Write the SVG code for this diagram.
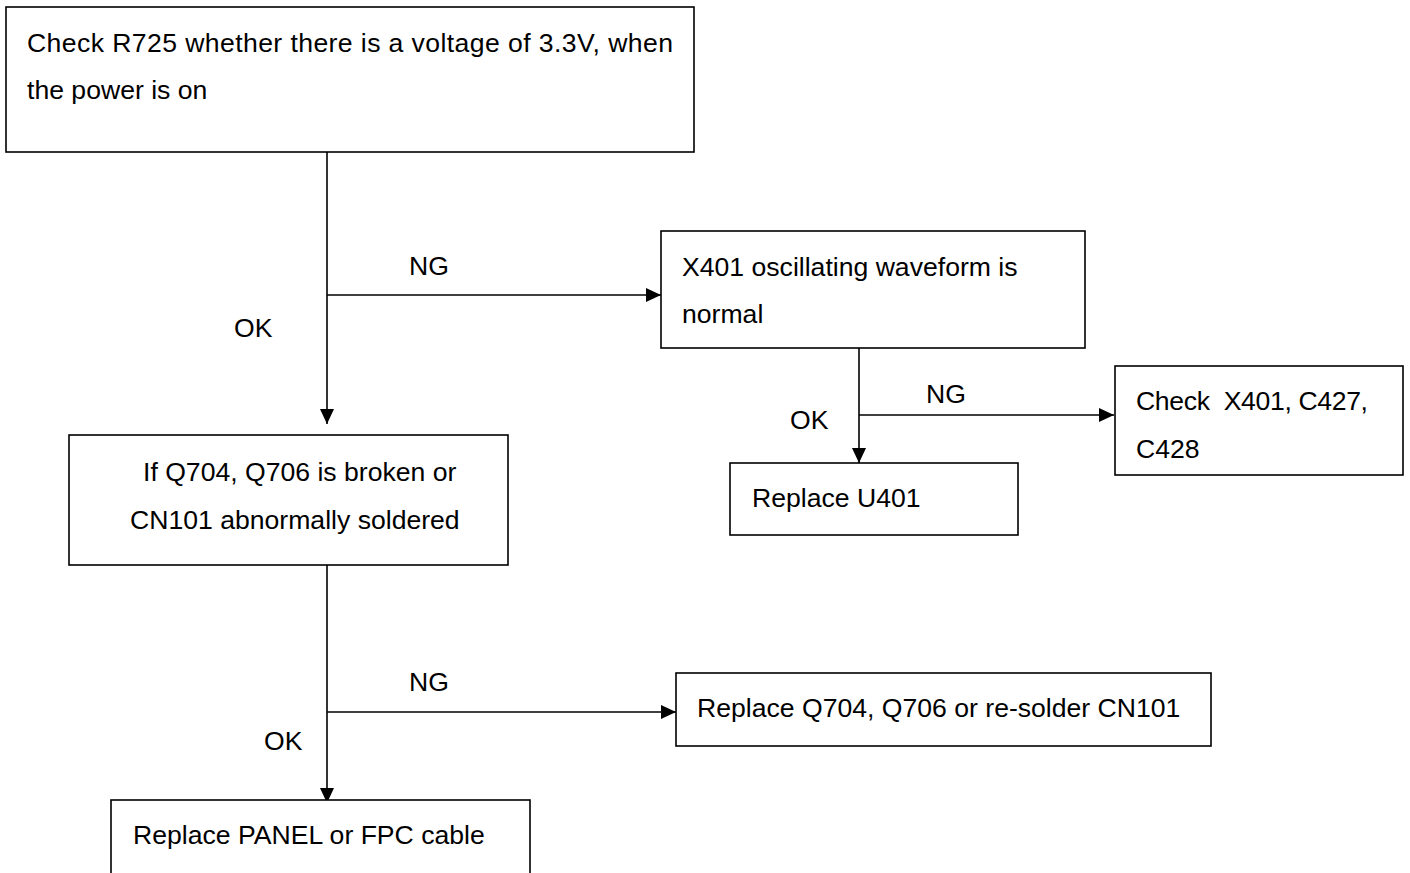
<svg xmlns="http://www.w3.org/2000/svg" width="1410" height="873" viewBox="0 0 1410 873">
<style>
.box{fill:#fff;stroke:#000;stroke-width:1.6}
.t{font-family:"Liberation Sans",Arial,sans-serif;font-size:26.6px;fill:#000}
.c{stroke:#000;stroke-width:1.6;fill:none}
</style>
<defs>
<marker id="ah" markerWidth="15" markerHeight="14" refX="15" refY="7" orient="auto" markerUnits="userSpaceOnUse">
<path d="M0,0 L15,7 L0,14 Z" fill="#000"/>
</marker>
</defs>
<rect width="1410" height="873" fill="#fff"/>
<g id="connectors">
<line class="c" x1="327" y1="152" x2="327" y2="424" marker-end="url(#ah)"/>
<line class="c" x1="327" y1="295" x2="661" y2="295" marker-end="url(#ah)"/>
<line class="c" x1="859" y1="348" x2="859" y2="463" marker-end="url(#ah)"/>
<line class="c" x1="859" y1="415" x2="1114" y2="415" marker-end="url(#ah)"/>
<line class="c" x1="327" y1="565" x2="327" y2="803" marker-end="url(#ah)"/>
<line class="c" x1="327" y1="712" x2="676" y2="712" marker-end="url(#ah)"/>
<text class="t" x="409" y="275">NG</text>
<text class="t" x="234" y="337">OK</text>
<text class="t" x="926" y="403">NG</text>
<text class="t" x="790" y="429">OK</text>
<text class="t" x="409" y="691">NG</text>
<text class="t" x="264" y="750">OK</text>
</g>
<g id="n1">
<rect class="box" x="6" y="7" width="688" height="145"/>
<text class="t" x="27" y="52" textLength="646" lengthAdjust="spacing">Check R725 whether there is a voltage of 3.3V, when</text>
<text class="t" x="27" y="99">the power is on</text>
</g>
<g id="n2">
<rect class="box" x="661" y="231" width="424" height="117"/>
<text class="t" x="682" y="276">X401 oscillating waveform is</text>
<text class="t" x="682" y="323">normal</text>
</g>
<g id="n3">
<rect class="box" x="1115" y="366" width="288" height="109"/>
<text class="t" x="1136" y="410" textLength="232" lengthAdjust="spacing" xml:space="preserve">Check  X401, C427,</text>
<text class="t" x="1136" y="458">C428</text>
</g>
<g id="n4">
<rect class="box" x="730" y="463" width="288" height="72"/>
<text class="t" x="752" y="507">Replace U401</text>
</g>
<g id="n5">
<rect class="box" x="69" y="435" width="439" height="130"/>
<text class="t" x="143" y="481">If Q704, Q706 is broken or</text>
<text class="t" x="130" y="529">CN101 abnormally soldered</text>
</g>
<g id="n6">
<rect class="box" x="676" y="673" width="535" height="73"/>
<text class="t" x="697" y="717">Replace Q704, Q706 or re-solder CN101</text>
</g>
<g id="n7">
<rect class="box" x="111" y="800" width="419" height="80"/>
<text class="t" x="133" y="844">Replace PANEL or FPC cable</text>
</g>
</svg>
